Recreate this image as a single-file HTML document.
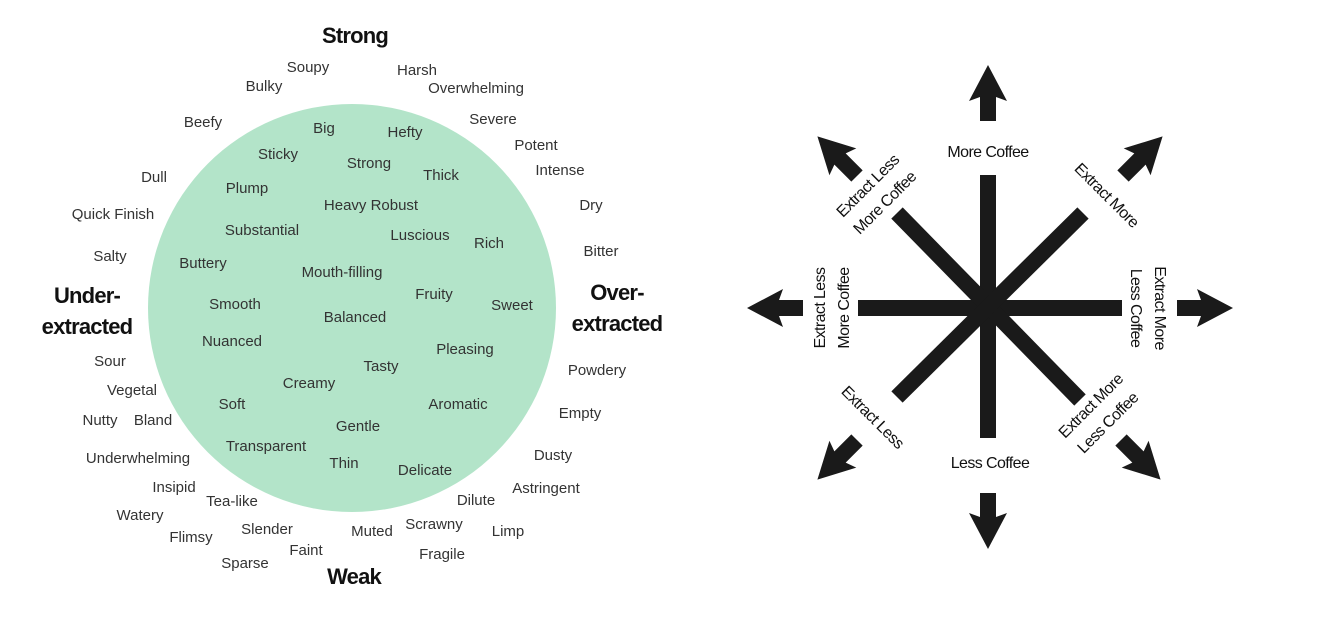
<!DOCTYPE html>
<html><head><meta charset="utf-8"><style>
html,body{margin:0;padding:0;background:#fff;}
svg{display:block;}
.w{font-family:"Liberation Sans",sans-serif;font-size:15px;fill:#333;text-anchor:middle;dominant-baseline:middle;}
.t{font-family:"Liberation Sans",sans-serif;font-size:22px;font-weight:bold;fill:#111;text-anchor:middle;dominant-baseline:middle;letter-spacing:-0.8px;}
.r{font-family:"Liberation Sans",sans-serif;font-size:16px;fill:#111;text-anchor:middle;dominant-baseline:middle;letter-spacing:-0.6px;}
</style></head><body>
<svg width="1323" height="631" viewBox="0 0 1323 631" xmlns="http://www.w3.org/2000/svg">
<rect width="1323" height="631" fill="#fff"/>
<circle cx="352" cy="308" r="204" fill="#b3e4c9"/>
<g class="w">
<text x="308" y="68">Soupy</text><text x="417" y="71">Harsh</text><text x="264" y="87">Bulky</text>
<text x="476" y="89">Overwhelming</text><text x="203" y="123">Beefy</text><text x="324" y="129">Big</text>
<text x="405" y="133">Hefty</text><text x="493" y="120">Severe</text><text x="536" y="146">Potent</text>
<text x="278" y="155">Sticky</text><text x="369" y="164">Strong</text><text x="441" y="176">Thick</text>
<text x="560" y="171">Intense</text><text x="154" y="178">Dull</text><text x="247" y="189">Plump</text>
<text x="591" y="206">Dry</text><text x="371" y="206">Heavy Robust</text><text x="113" y="215">Quick Finish</text>
<text x="262" y="231">Substantial</text><text x="420" y="236">Luscious</text><text x="489" y="244">Rich</text>
<text x="601" y="252">Bitter</text><text x="110" y="257">Salty</text><text x="203" y="264">Buttery</text>
<text x="342" y="273">Mouth-filling</text><text x="434" y="295">Fruity</text><text x="512" y="306">Sweet</text>
<text x="235" y="305">Smooth</text><text x="355" y="318">Balanced</text><text x="232" y="342">Nuanced</text>
<text x="465" y="350">Pleasing</text><text x="110" y="362">Sour</text><text x="381" y="367">Tasty</text>
<text x="597" y="371">Powdery</text><text x="309" y="384">Creamy</text><text x="132" y="391">Vegetal</text>
<text x="232" y="405">Soft</text><text x="458" y="405">Aromatic</text><text x="580" y="414">Empty</text>
<text x="100" y="421">Nutty</text><text x="153" y="421">Bland</text><text x="358" y="427">Gentle</text>
<text x="266" y="447">Transparent</text><text x="553" y="456">Dusty</text><text x="138" y="459">Underwhelming</text>
<text x="344" y="464">Thin</text><text x="425" y="471">Delicate</text><text x="174" y="488">Insipid</text>
<text x="546" y="489">Astringent</text><text x="232" y="502">Tea-like</text><text x="476" y="501">Dilute</text>
<text x="140" y="516">Watery</text><text x="434" y="525">Scrawny</text><text x="267" y="530">Slender</text>
<text x="508" y="532">Limp</text><text x="372" y="532">Muted</text><text x="191" y="538">Flimsy</text>
<text x="306" y="551">Faint</text><text x="442" y="555">Fragile</text><text x="245" y="564">Sparse</text>
</g>
<g class="t">
<text x="355" y="37">Strong</text><text x="354" y="578">Weak</text>
<text x="87" y="297">Under-</text><text x="87" y="328">extracted</text>
<text x="617" y="294">Over-</text><text x="617" y="325">extracted</text>
</g>
<g fill="#1a1a1a">
<rect x="980" y="175" width="16" height="263"/>
<rect x="858" y="300" width="264" height="16"/>
<line x1="897" y1="213" x2="1080" y2="400" stroke="#1a1a1a" stroke-width="16"/>
<line x1="1083" y1="213" x2="897" y2="397" stroke="#1a1a1a" stroke-width="16"/>
</g>
<defs><path id="ar" d="M-8,0 L-8,-24 L-19,-20 L0,-56 L19,-20 L8,-24 L8,0 Z" fill="#1a1a1a"/></defs>
<use href="#ar" transform="translate(988,121)"/>
<use href="#ar" transform="translate(988,493) rotate(180)"/>
<use href="#ar" transform="translate(803,308) rotate(-90)"/>
<use href="#ar" transform="translate(1177,308) rotate(90)"/>
<use href="#ar" transform="translate(1123,176) rotate(45)"/>
<use href="#ar" transform="translate(857,176) rotate(-45)"/>
<use href="#ar" transform="translate(857,440) rotate(-135)"/>
<use href="#ar" transform="translate(1121,440) rotate(135)"/>
<g class="r">
<text x="988" y="153">More Coffee</text>
<text x="990" y="464">Less Coffee</text>
<g transform="translate(833,308) rotate(-90)"><text x="0" y="-12">Extract Less</text><text x="0" y="12">More Coffee</text></g>
<g transform="translate(1147,308) rotate(90)"><text x="0" y="-12">Extract More</text><text x="0" y="12">Less Coffee</text></g>
<g transform="translate(877,195) rotate(-45)"><text x="0" y="-12">Extract Less</text><text x="0" y="12">More Coffee</text></g>
<g transform="translate(1106,196) rotate(45)"><text x="0" y="0">Extract More</text></g>
<g transform="translate(872,418) rotate(45)"><text x="0" y="0">Extract Less</text></g>
<g transform="translate(1100,415) rotate(-45)"><text x="0" y="-12">Extract More</text><text x="0" y="12">Less Coffee</text></g>
</g>
</svg>
</body></html>
